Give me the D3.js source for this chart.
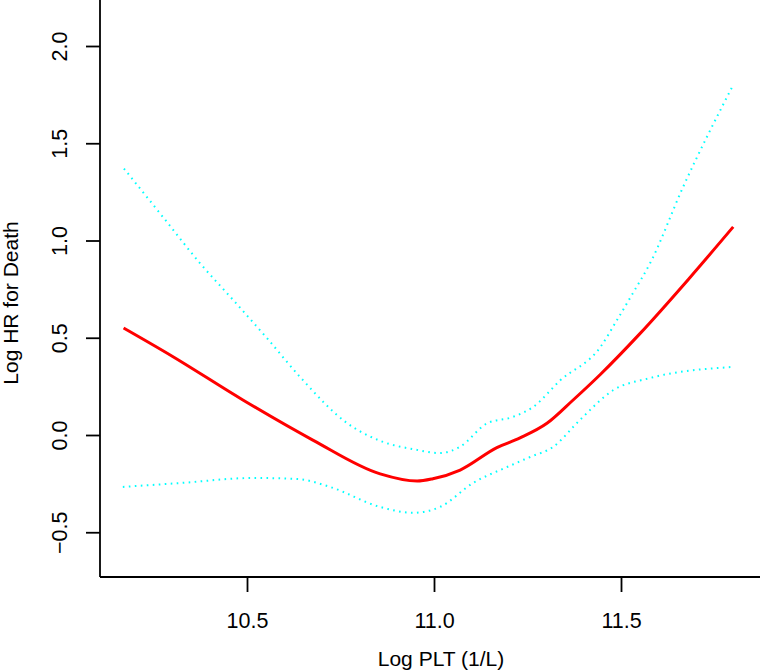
<!DOCTYPE html>
<html>
<head>
<meta charset="utf-8">
<script src="https://cdn.jsdelivr.net/npm/d3@7"></script>
<style>
  body { margin: 0; background: #fff; }
  svg text { font-family: "Liberation Sans", Arial, Helvetica, sans-serif; fill: #000; }
</style>
</head>
<body>
<div id="chart"></div>
<script>
// values (log PLT vs log HR)
var fitX  = [10.17, 10.30, 10.489, 10.676, 10.856, 10.955, 10.997, 11.07, 11.168, 11.23, 11.302, 11.372, 11.444, 11.55, 11.68, 11.80];
var fitY  = [0.55, 0.405, 0.18, -0.026, -0.20, -0.237, -0.225, -0.18, -0.065, -0.015, 0.06, 0.18, 0.31, 0.52, 0.80, 1.07];

var upX   = [10.171, 10.286, 10.374, 10.463, 10.553, 10.642, 10.767, 10.856, 10.95, 11.016, 11.07, 11.142, 11.211, 11.265, 11.337, 11.444, 11.489, 11.532, 11.578, 11.666, 11.80];
var upY   = [1.37, 1.095, 0.884, 0.694, 0.499, 0.298, 0.062, -0.03, -0.075, -0.093, -0.06, 0.06, 0.093, 0.144, 0.28, 0.45, 0.59, 0.73, 0.884, 1.275, 1.80];

var loX   = [10.168, 10.321, 10.516, 10.634, 10.722, 10.856, 10.944, 11.016, 11.104, 11.195, 11.257, 11.318, 11.39, 11.479, 11.578, 11.80];
var loY   = [-0.267, -0.247, -0.221, -0.226, -0.267, -0.37, -0.40, -0.37, -0.247, -0.165, -0.113, -0.062, 0.077, 0.23, 0.293, 0.35];

var xTicks = [10.5, 11.0, 11.5];
var yTicks = [-0.5, 0.0, 0.5, 1.0, 1.5, 2.0];

var w = 760, h = 670;
var axisX = 100, axisY = 577;

var svg = d3.select("#chart")
            .append("svg")
            .attr("width", w)
            .attr("height", h);

var x = d3.scaleLinear().domain([10.5, 11.5]).range([247, 621]);
var y = d3.scaleLinear().domain([0, 2]).range([435, 46]);

// axes (L shaped, like bty="l")
var xAxis = svg.append("g")
    .attr("transform", "translate(0," + axisY + ")")
    .call(d3.axisBottom(x).tickValues(xTicks).tickSize(15).tickSizeOuter(0)
            .tickFormat(d3.format(".1f")));
xAxis.select(".domain").remove();
xAxis.selectAll("line").attr("stroke", "#000").attr("stroke-width", 1.8);
xAxis.selectAll("text")
    .attr("y", 51).attr("dy", 0)
    .attr("font-size", "21.5px")
    .attr("fill", "#000");

var yAxis = svg.append("g")
    .attr("transform", "translate(" + axisX + ",0)")
    .call(d3.axisLeft(y).tickValues(yTicks).tickSize(14).tickSizeOuter(0)
            .tickFormat(function(d) { return d3.format(".1f")(d).replace("-", "\u2212"); }));
yAxis.select(".domain").remove();
yAxis.selectAll("line").attr("stroke", "#000").attr("stroke-width", 1.8);
yAxis.selectAll("text")
    .attr("x", 0).attr("y", 0).attr("dy", 0)
    .attr("text-anchor", "middle")
    .attr("transform", "translate(-33,0) rotate(-90)")
    .attr("font-size", "21.5px")
    .attr("fill", "#000");

svg.append("line")
    .attr("x1", axisX).attr("x2", w)
    .attr("y1", axisY).attr("y2", axisY)
    .attr("stroke", "#000").attr("stroke-width", 1.8);
svg.append("line")
    .attr("x1", axisX).attr("x2", axisX)
    .attr("y1", 0).attr("y2", axisY)
    .attr("stroke", "#000").attr("stroke-width", 1.8);

// axis titles
svg.append("text")
    .attr("x", 441).attr("y", 666)
    .attr("text-anchor", "middle")
    .attr("font-size", "21px")
    .text("Log PLT (1/L)");

svg.append("text")
    .attr("transform", "translate(18,303) rotate(-90)")
    .attr("text-anchor", "middle")
    .attr("font-size", "21px")
    .text("Log HR for Death");

// curves
var line = d3.line()
    .x(function(d) { return x(d[0]); })
    .y(function(d) { return y(d[1]); })
    .curve(d3.curveMonotoneX);

function pairs(xs, ys) {
    return xs.map(function(v, i) { return [v, ys[i]]; });
}

svg.append("path")
    .datum(pairs(upX, upY))
    .attr("d", line)
    .attr("fill", "none")
    .attr("stroke", "#00ffff")
    .attr("stroke-width", 2)
    .attr("stroke-dasharray", "1.6,4.4");

svg.append("path")
    .datum(pairs(loX, loY))
    .attr("d", line)
    .attr("fill", "none")
    .attr("stroke", "#00ffff")
    .attr("stroke-width", 2)
    .attr("stroke-dasharray", "1.6,4.4");

svg.append("path")
    .datum(pairs(fitX, fitY))
    .attr("d", line)
    .attr("fill", "none")
    .attr("stroke", "#ff0000")
    .attr("stroke-width", 3);
</script>
</body>
</html>
